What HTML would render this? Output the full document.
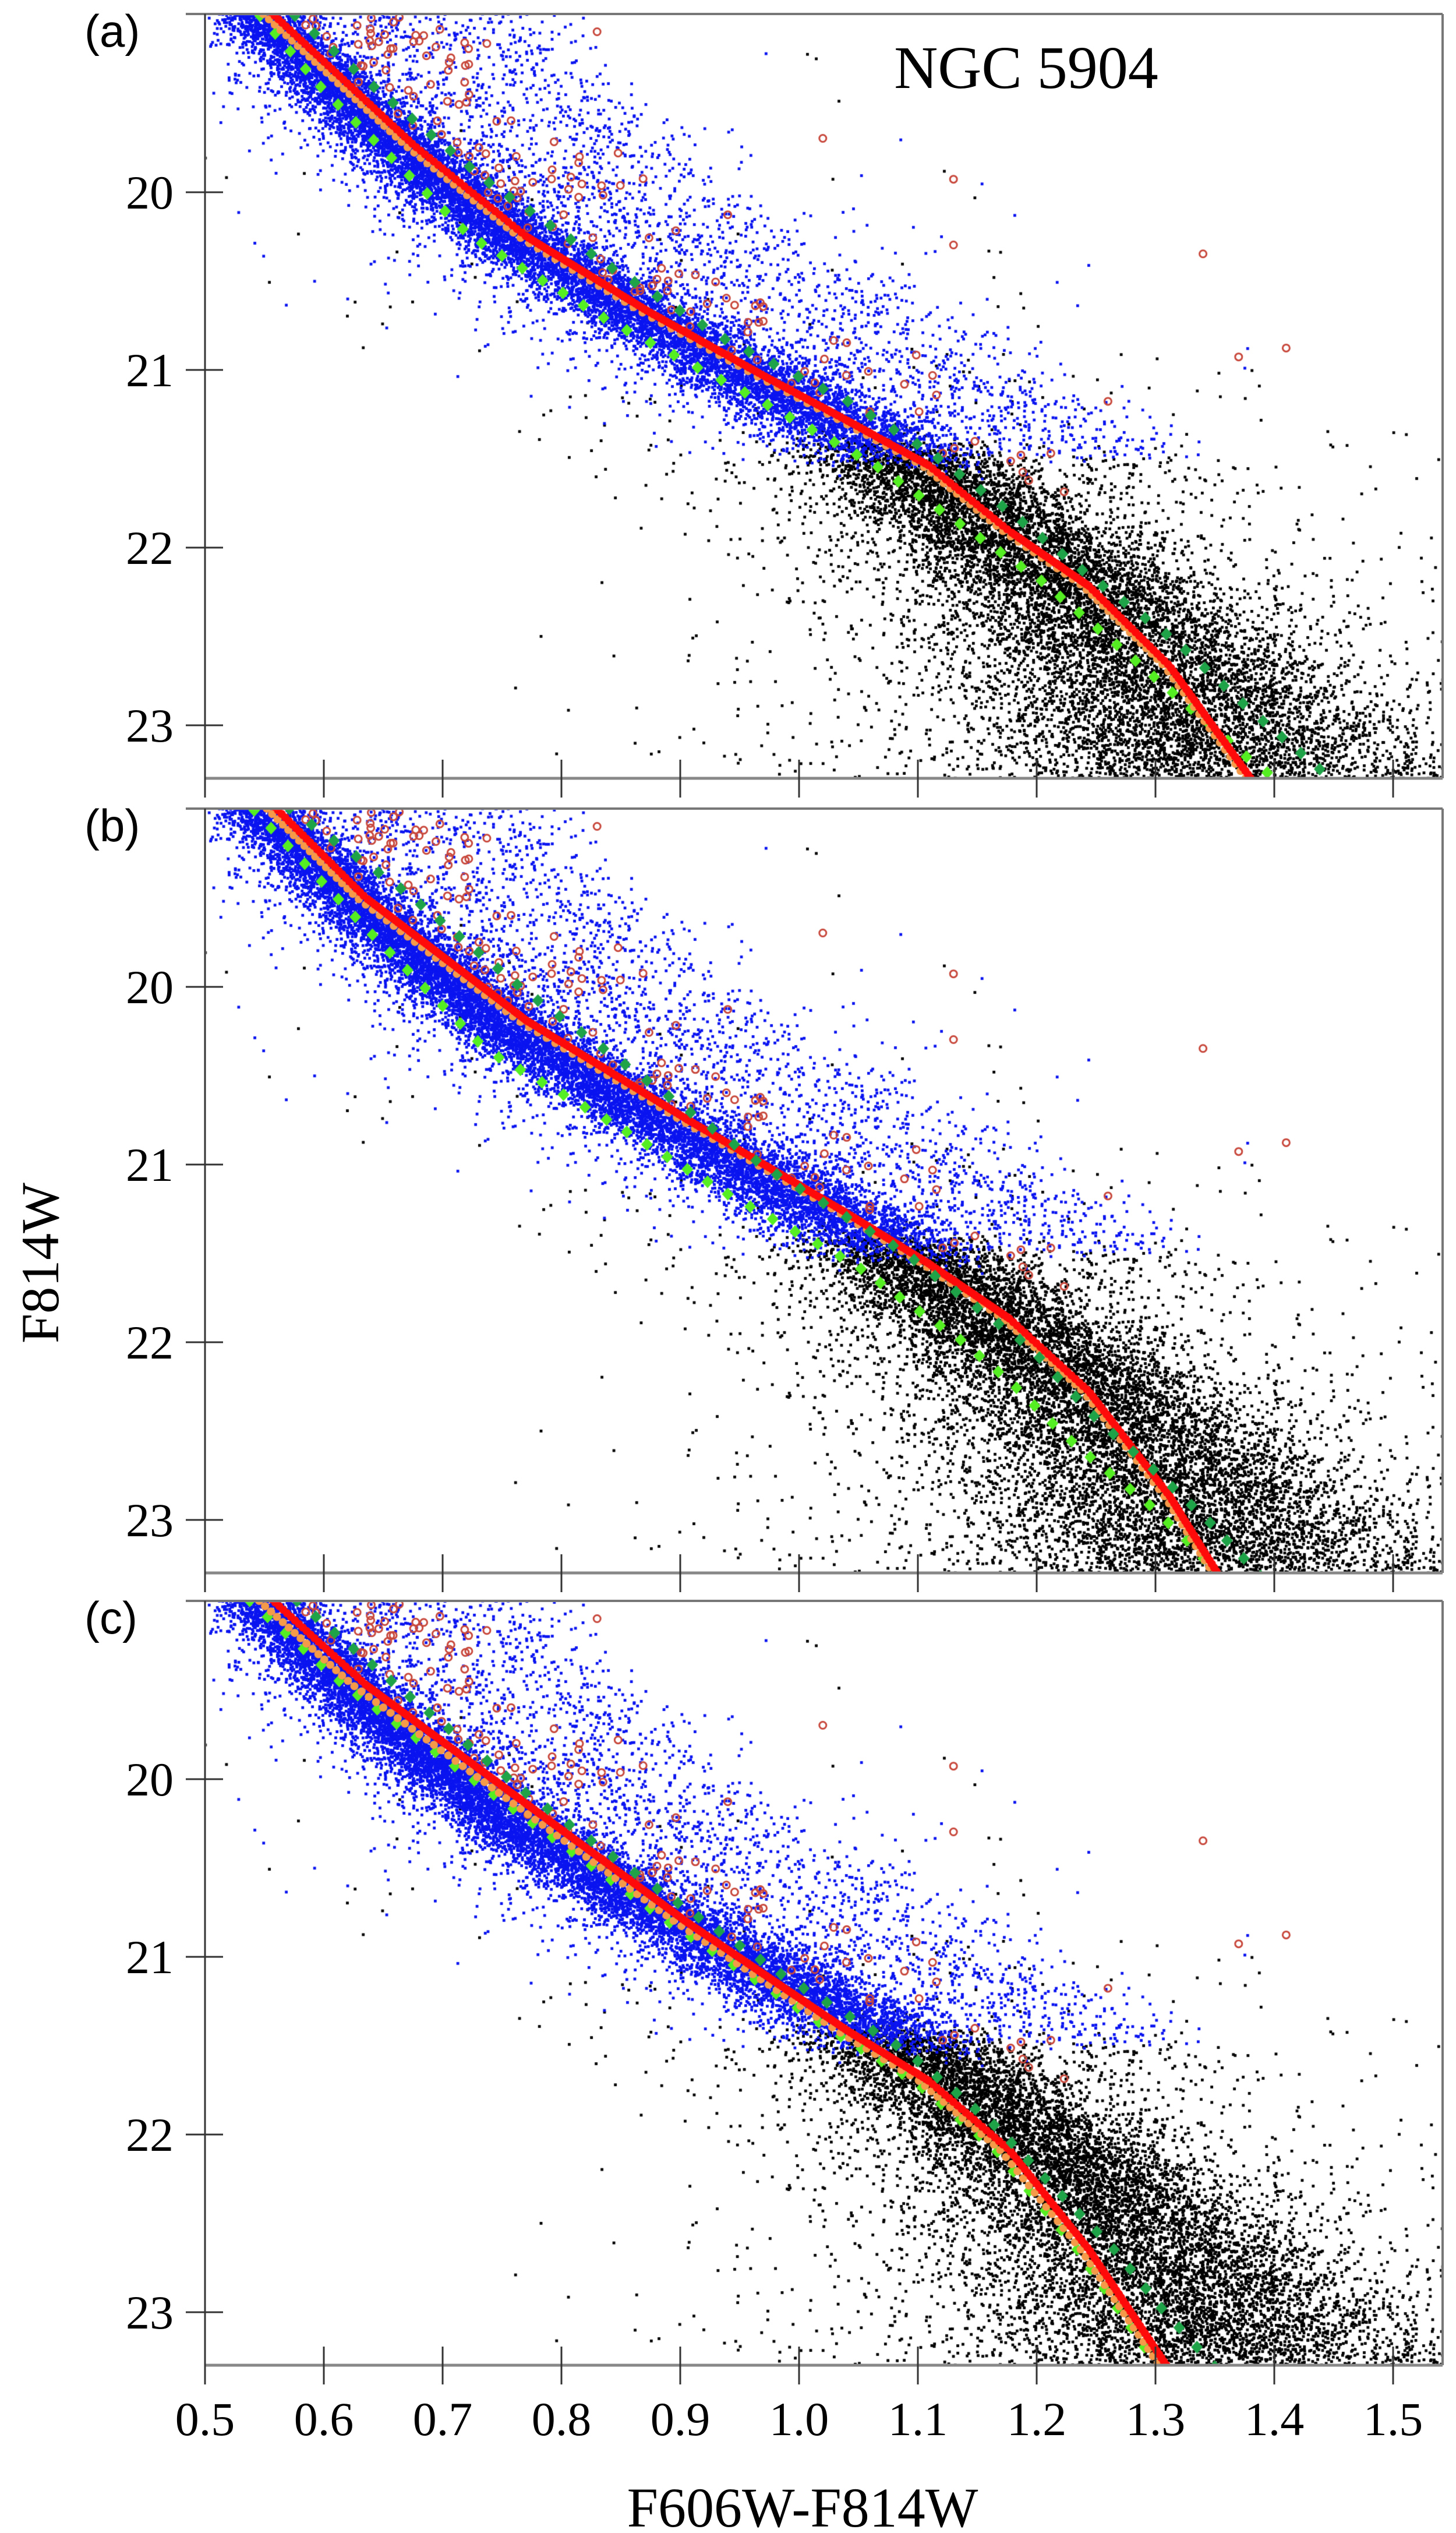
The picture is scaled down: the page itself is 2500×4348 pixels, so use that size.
<!DOCTYPE html>
<html><head><meta charset="utf-8">
<style>
html,body{margin:0;padding:0;background:#fff;}
#wrap{position:relative;width:2500px;height:4348px;overflow:hidden;background:#fff;}
canvas{position:absolute;left:0;top:0;}
svg{position:absolute;left:0;top:0;}
</style></head>
<body><div id="wrap">
<canvas id="cv" width="2500" height="4348"></canvas>
<svg width="2500" height="4348" xmlns="http://www.w3.org/2000/svg" id="ax" font-family="Liberation Serif, serif">
<text x="1762" y="151" font-size="104" text-anchor="middle" fill="#000">NGC 5904</text>
<text x="145" y="80" font-size="78" font-family="Liberation Sans, sans-serif" fill="#000">(a)</text>
<text x="145" y="1444" font-size="78" font-family="Liberation Sans, sans-serif" fill="#000">(b)</text>
<text x="145" y="2804" font-size="78" font-family="Liberation Sans, sans-serif" fill="#000">(c)</text>
<text x="1378" y="4337" font-size="96" text-anchor="middle" fill="#000">F606W-F814W</text>
<text transform="translate(100,2168) rotate(-90)" font-size="92" text-anchor="middle" fill="#000">F814W</text>
<g id="axes"></g>
</svg>
</div>
<script>
(function(){
var NS="http://www.w3.org/2000/svg";
var g=document.getElementById('axes');
function el(n,a,t){var e=document.createElementNS(NS,n);for(var k in a)e.setAttribute(k,a[k]);if(t!==undefined)e.textContent=t;g.appendChild(e);return e;}
var Ts=[24,1388,2748];
var X0=352,XR=2477,H=1312,SX=2040,SY=305;
Ts.forEach(function(T,pi){
  el('line',{x1:319,y1:T,x2:XR,y2:T,stroke:'#777','stroke-width':4});
  el('line',{x1:XR,y1:T,x2:XR,y2:T+H,stroke:'#777','stroke-width':4});
  el('line',{x1:X0,y1:T+H,x2:XR,y2:T+H,stroke:'#888','stroke-width':5});
  el('line',{x1:X0,y1:T,x2:X0,y2:T+H+33,stroke:'#333','stroke-width':3});
  for(var m=20;m<=23;m++){var y=T+306+(m-20)*SY;
    el('line',{x1:319,y1:y,x2:383,y2:y,stroke:'#333','stroke-width':3});
    el('text',{x:298,y:y+28,'font-size':82,'text-anchor':'end',fill:'#000'},String(m));}
  for(var k=1;k<=10;k++){var x=X0+204*k;
    el('line',{x1:x,y1:T+H-32,x2:x,y2:T+H+33,stroke:'#333','stroke-width':3});}
});
var lab=['0.5','0.6','0.7','0.8','0.9','1.0','1.1','1.2','1.3','1.4','1.5'];
for(var k=0;k<=10;k++){el('text',{x:X0+204*k,y:4180,'font-size':82,'text-anchor':'middle',fill:'#000'},lab[k]);}

var s=12345;function R(){s|=0;s=s+0x6D2B79F5|0;var t=Math.imul(s^s>>>15,1|s);t=t+Math.imul(t^t>>>7,61|t)^t;return((t^t>>>14)>>>0)/4294967296;}
function G(){var u=R()||1e-9,v=R();return Math.sqrt(-2*Math.log(u))*Math.cos(6.2831853*v);}
function interp(arr,m){ if(m<=arr[0][1])return arr[0][0]+(m-arr[0][1])*(arr[1][0]-arr[0][0])/(arr[1][1]-arr[0][1]);
 for(var i=1;i<arr.length;i++){if(m<=arr[i][1]){var a=arr[i-1],b=arr[i];return a[0]+(m-a[1])*(b[0]-a[0])/(b[1]-a[1]);}}
 var a=arr[arr.length-2],b=arr[arr.length-1];return b[0]+(m-b[1])*(b[0]-a[0])/(b[1]-a[1]);}
var P=[
{red:[[0.557,19.0],[0.676,19.74],[0.77,20.25],[0.872,20.67],[0.974,21.05],[1.041,21.29],[1.109,21.54],[1.177,21.91],[1.244,22.22],[1.312,22.67],[1.38,23.3]],
 oo:-0.008,
 lg:[[0.545,19.0],[0.6,19.43],[0.723,20.25],[0.838,20.72],[0.96,21.15],[1.062,21.53],[1.129,21.84],[1.204,22.19],[1.278,22.61],[1.38,23.2],[1.4,23.3]],
 dg:[[0.574,19.0],[0.635,19.37],[0.737,19.94],[0.838,20.41],[0.94,20.84],[1.041,21.18],[1.109,21.46],[1.177,21.8],[1.244,22.16],[1.319,22.54],[1.38,22.92],[1.44,23.26]]},
{red:[[0.554,18.96],[0.635,19.5],[0.77,20.19],[0.906,20.75],[1.041,21.28],[1.109,21.56],[1.177,21.87],[1.244,22.28],[1.312,22.87],[1.352,23.3]],
 oo:-0.008,
 lg:[[0.54,19.0],[0.635,19.67],[0.737,20.36],[0.838,20.75],[0.94,21.17],[1.048,21.57],[1.095,21.8],[1.136,21.99],[1.18,22.24],[1.224,22.53],[1.254,22.7],[1.292,22.9],[1.339,23.2],[1.345,23.3]],
 dg:[[0.571,19.0],[0.669,19.47],[0.77,20.03],[0.872,20.53],[0.974,21.03],[1.089,21.5],[1.136,21.74],[1.194,22.03],[1.251,22.44],[1.305,22.76],[1.346,23.02],[1.38,23.26]]},
{red:[[0.551,18.96],[0.635,19.47],[0.77,20.14],[0.906,20.81],[1.041,21.42],[1.109,21.7],[1.177,22.09],[1.244,22.65],[1.309,23.3]],
 oo:-0.012,lgo:-0.02,
 dg:[[0.581,19.02],[0.669,19.52],[0.77,20.08],[0.872,20.58],[0.987,21.11],[1.089,21.53],[1.129,21.75],[1.166,21.96],[1.21,22.27],[1.268,22.67],[1.305,22.98],[1.339,23.23]]}
];
var fid=P[0].red;
var stars=[];
for(var i=0;i<24000;i++){var m=19+4.35*Math.pow(R(),0.92);
  var sg=0.014+0.004*Math.exp(0.72*(m-19)); if(R()<0.2)sg*=2.2;
  var c=interp(fid,m)-0.012+G()*sg; var blue=m<21.45+G()*0.07;
  stars.push([c,m,blue?1:0]);}
for(var i=0;i<1800;i++){var m=19+2.8*R();var c=interp(fid,m)-0.012+0.02+R()*0.16+Math.abs(G())*0.03;m-=R()*0.3;stars.push([c,m,m<21.5?1:0]);}
for(var i=0;i<550;i++){var m=19+4.35*Math.pow(R(),0.5);var c=interp(fid,m)-0.3+0.75*R();stars.push([c,m,(m<21&&R()<0.5)?1:0]);}
var circ=[];
for(var i=0;i<150;i++){var m=19+2.7*Math.pow(R(),1.3);var c=interp(fid,m)+0.01+R()*0.17*Math.pow(R(),0.6);circ.push([c,m]);}
[[1.02,19.7],[1.13,19.93],[1.13,20.3],[1.34,20.35],[1.37,20.93],[1.41,20.88],[1.26,21.18],[0.83,19.1],[0.94,20.13]].forEach(function(p){circ.push(p);});

var ctx=document.getElementById('cv').getContext('2d');
function pl(T,f,step,draw){
  var pts=[];for(var m=18.9;m<=23.4;m+=0.01){pts.push([X0+(f(m)-0.5)*SX,T+(m-19)*SY]);}
  var acc=step;for(var i=1;i<pts.length;i++){var dx=pts[i][0]-pts[i-1][0],dy=pts[i][1]-pts[i-1][1];acc+=Math.sqrt(dx*dx+dy*dy);if(acc>=step){acc=0;draw(pts[i][0],pts[i][1]);}}
}
P.forEach(function(p,pi){
  var T=Ts[pi];
  ctx.save();ctx.beginPath();ctx.rect(X0+2,T+2,XR-X0-4,H-4);ctx.clip();
  for(var pass=0;pass<2;pass++){
    ctx.fillStyle=pass?'#0a14f0':'#000';
    for(var i=0;i<stars.length;i++){var st=stars[i];if(st[2]!==pass)continue;
      var x=X0+(st[0]-0.5)*SX,y=T+(st[1]-19)*SY;ctx.fillRect(x-2.4,y-2.4,4.8,4.8);}
  }
  ctx.strokeStyle='#c8483c';ctx.lineWidth=3;
  circ.forEach(function(q){var x=X0+(q[0]-0.5)*SX,y=T+(q[1]-19)*SY;ctx.beginPath();ctx.arc(x,y,6,0,6.283);ctx.stroke();});
  var fr=function(m){return interp(p.red,m);};
  var fo=function(m){return interp(p.red,m)+p.oo*(1-0.5*(m-19)/4.3);};
  var flg=p.lg?function(m){return interp(p.lg,m);}:function(m){return interp(p.red,m)+p.lgo*(1-0.6*(m-19)/4.3);};
  var fdg=function(m){return interp(p.dg,m);};
  function dia(col){return function(x,y){ctx.fillStyle=col;ctx.beginPath();ctx.moveTo(x,y-11);ctx.lineTo(x+10,y);ctx.lineTo(x,y+11);ctx.lineTo(x-10,y);ctx.closePath();ctx.fill();};}
  pl(T,flg,40,dia('#55ee22'));
  pl(T,fo,13,function(x,y){ctx.fillStyle='#f59a48';ctx.beginPath();ctx.arc(x,y,7,0,6.283);ctx.fill();});
  pl(T,fr,5,function(x,y){ctx.fillStyle='#ff0a0a';ctx.beginPath();ctx.arc(x,y,7,0,6.283);ctx.fill();});
  pl(T,fdg,42,dia('#1fa348'));
  ctx.restore();
});
})();
</script>
</body></html>
